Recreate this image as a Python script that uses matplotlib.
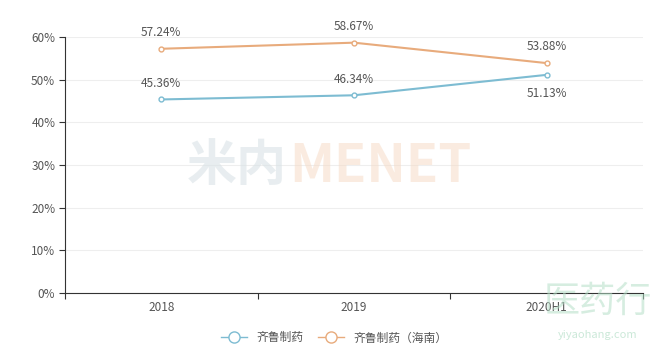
import matplotlib.pyplot as plt
from matplotlib.lines import Line2D
import numpy as np

plt.rcParams['font.family'] = ['Noto Sans CJK SC', 'DejaVu Sans']

categories = ["2018", "2019", "2020H1"]
qilu = [45.36, 46.34, 51.13]
qilu_hainan = [57.24, 58.67, 53.88]
series_names = ["齐鲁制药", "齐鲁制药（海南）"]

blue = "#7dbcd2"
orange = "#e8ab7c"

fig = plt.figure(figsize=(6.68, 3.55), dpi=100)
ax = fig.add_axes([0.0973, 0.1746, 0.8653, 0.7212])

x = np.arange(len(categories))
ax.plot(x, qilu, color=blue, lw=1.5, marker="o", ms=3.5, mfc="white", mec=blue)
ax.plot(x, qilu_hainan, color=orange, lw=1.5, marker="o", ms=3.5, mfc="white", mec=orange)

# value labels
for i, v in enumerate(qilu_hainan):
    ax.annotate(f"{v:.2f}%", (x[i], v), xytext=(0, 7), textcoords="offset points",
                ha="center", va="bottom", fontsize=8.5, color="#555555")
for i, v in enumerate(qilu):
    off = -9 if i == 2 else 7
    ax.annotate(f"{v:.2f}%", (x[i], v), xytext=(0, off), textcoords="offset points",
                ha="center", va="top" if off < 0 else "bottom", fontsize=8.5, color="#555555")

ax.set_xlim(-0.5, 2.5)
ax.set_ylim(0, 60)
ax.set_yticks(range(0, 61, 10))
ax.set_yticklabels([f"{t}%" for t in range(0, 61, 10)])
ax.set_xticks([-0.5, 0.5, 1.5, 2.5])
ax.set_xticklabels([])
ax.set_xticks(x, minor=True)
ax.set_xticklabels(categories, minor=True)
ax.tick_params(axis="x", which="minor", length=0, pad=6, labelsize=8.5, labelcolor="#555555")
ax.tick_params(axis="x", which="major", length=4, color="#333333")
ax.tick_params(axis="y", length=4, color="#333333", labelsize=8.5, labelcolor="#555555", pad=3)

ax.grid(axis="y", color="#eeeeee", lw=0.8)
ax.set_axisbelow(True)
for s in ["top", "right"]:
    ax.spines[s].set_visible(False)
ax.spines["left"].set_color("#333333")
ax.spines["bottom"].set_color("#333333")

# watermarks
fig.text(0.355, 0.53, "米内", fontsize=36, fontweight="bold", color="#d9e2e6",
         alpha=0.6, ha="center", va="center", zorder=0)
fig.text(0.57, 0.53, "MENET", fontsize=38, fontweight="bold", color="#f6d9c3",
         alpha=0.5, ha="center", va="center", zorder=0)
fig.text(0.895, 0.15, "医药行", fontsize=26, color="#b5dfc8", alpha=0.55, ha="center", va="center", zorder=0)
fig.text(0.895, 0.055, "yiyaohang.com", fontsize=8, color="#b5dfc8", alpha=0.7, ha="center", va="center")

handles = [Line2D([], [], color=c, lw=1, marker="o", ms=8, mfc="white", mec=c) for c in (blue, orange)]
fig.legend(handles, series_names, loc="lower center", bbox_to_anchor=(0.5, 0.0), ncol=2, frameon=False,
           fontsize=8.5, handlelength=2.2, columnspacing=1.2, labelcolor="#555555")

fig.savefig("out.png", dpi=100)
